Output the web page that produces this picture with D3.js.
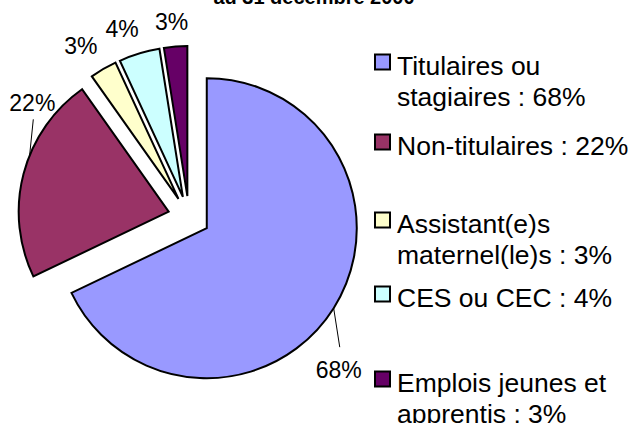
<!DOCTYPE html>
<html><head><meta charset="utf-8">
<script src="https://cdn.jsdelivr.net/npm/d3@7"></script>
<style>html,body{margin:0;padding:0;background:#fff;}svg{display:block;}</style>
</head><body>
<svg id="c" width="631" height="423"></svg>
<script>
// ---- data ----
const categories = ["Titulaires ou stagiaires", "Non-titulaires", "Assistant(e)s maternel(le)s", "CES ou CEC", "Emplois jeunes et apprentis"];
const values = [67.9, 22.3, 2.9, 4.4, 2.5];
const valueLabels = ["68%", "22%", "3%", "4%", "3%"];
const legendLines = [["Titulaires ou", "stagiaires : 68%"], ["Non-titulaires : 22%"], ["Assistant(e)s", "maternel(le)s : 3%"], ["CES ou CEC : 4%"], ["Emplois jeunes et", "apprentis : 3%"]];
const colors = ["#9999FF", "#993366", "#FFFFCC", "#CCFFFF", "#660066"];
const titleText = "au 31 décembre 2000";

// ---- layout ----
const W = 631, H = 423;
const cx = 189, cy = 217, R = 150, explode = 21;
const labelPolar = [[137.1, 220], [304, 189], [326.5, 196], [339.6, 192], [354.7, 187.5]]; // angle deg, radius (from centre)
const leaders = {0: {arcAngle: null, endDy: -31}, 1: {arcAngle: 292, endDy: 8}};
const legendBaselines = [75, 155, 233, 307, 392];
const legendLineH = 30.5;
const font = "'Liberation Sans', Arial, Helvetica, sans-serif";

const svg = d3.select("#c");
svg.append("rect").attr("width", W).attr("height", H).attr("fill", "#fff");

svg.append("text").attr("x", 314).attr("y", 3.5).attr("text-anchor", "middle")
  .attr("font-family", font).attr("font-weight", "bold").attr("font-size", 20).text(titleText);

const pie = d3.pie().sort(null).value(d => d)(values);
const arc = d3.arc().innerRadius(0).outerRadius(R);
const dir = a => [Math.sin(a), -Math.cos(a)];

const g = svg.append("g").attr("transform", `translate(${cx},${cy})`);
const offs = pie.map(p => { const m = (p.startAngle + p.endAngle) / 2; const d = dir(m); return [d[0] * explode, d[1] * explode]; });

g.selectAll("path.slice").data(pie).enter().append("path")
  .attr("class", "slice")
  .attr("transform", (d, i) => `translate(${offs[i][0]},${offs[i][1]})`)
  .attr("d", arc)
  .attr("fill", (d, i) => colors[i])
  .attr("stroke", "#000").attr("stroke-width", 2).attr("stroke-linejoin", "miter");

// labels
labelPolar.forEach((lp, i) => {
  const d = dir(lp[0] * Math.PI / 180);
  const x = d[0] * lp[1], y = d[1] * lp[1];
  g.append("text").attr("x", x).attr("y", y).attr("text-anchor", "middle")
    .attr("font-family", font).attr("font-size", 23).attr("fill", "#000").text(valueLabels[i]);
  if (leaders[i]) {
    const p = pie[i];
    const a = leaders[i].arcAngle === null ? (p.startAngle + p.endAngle) / 2 : leaders[i].arcAngle * Math.PI / 180;
    const ad = dir(a);
    const sx = offs[i][0] + ad[0] * R, sy = offs[i][1] + ad[1] * R;
    g.append("line").attr("x1", sx).attr("y1", sy).attr("x2", x + 1).attr("y2", y + leaders[i].endDy)
      .attr("stroke", "#000").attr("stroke-width", 1);
  }
});

// legend
const lg = svg.append("g");
categories.forEach((c, i) => {
  const b = legendBaselines[i];
  lg.append("rect").attr("x", 375).attr("y", b - 20.5).attr("width", 15).attr("height", 15)
    .attr("fill", colors[i]).attr("stroke", "#000").attr("stroke-width", 2);
  const t = lg.append("text").attr("font-family", font).attr("font-size", 26.5).attr("fill", "#000");
  legendLines[i].forEach((ln, j) => {
    t.append("tspan").attr("x", 397).attr("y", b + j * legendLineH).text(ln);
  });
});
</script>
</body></html>
